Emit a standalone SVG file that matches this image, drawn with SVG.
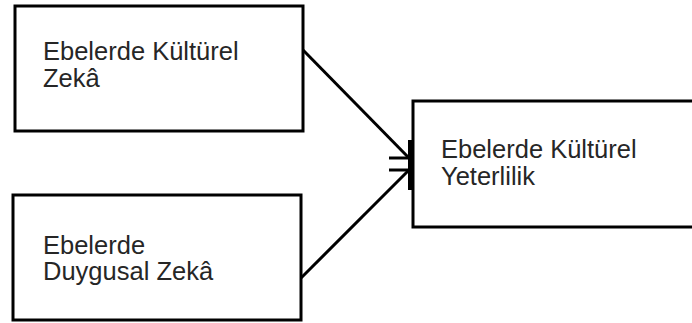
<svg xmlns="http://www.w3.org/2000/svg" width="692" height="323" viewBox="0 0 692 323">
<style>
.box{fill:#fff;stroke:#000;stroke-width:3}
.lbl{font-family:"Liberation Sans",Arial,sans-serif;font-size:25.5px;fill:#262626}
.edge{fill:none;stroke:#000;stroke-width:3}
</style>
<rect width="692" height="323" fill="#fff"/>
<g id="node1">
<rect class="box" x="15" y="6" width="288" height="125"/>
<text class="lbl" x="43" y="60">Ebelerde Kültürel</text>
<text class="lbl" x="43" y="87">Zekâ</text>
</g>
<g id="node2">
<rect class="box" x="13" y="195" width="288" height="125"/>
<text class="lbl" x="43" y="254">Ebelerde</text>
<text class="lbl" x="43" y="280">Duygusal Zekâ</text>
</g>
<g id="node3">
<rect class="box" x="413" y="101" width="290" height="126"/>
<text class="lbl" x="441" y="158">Ebelerde Kültürel</text>
<text class="lbl" x="441" y="185">Yeterlilik</text>
</g>
<g id="connectors">
<path class="edge" d="M303 50 L409 158"/>
<path class="edge" d="M389 158 H411"/>
<path class="edge" d="M301 278 L409 170"/>
<path class="edge" d="M389 170 H411"/>
<rect x="408" y="140" width="5" height="50" fill="#000"/>
</g>
</svg>
